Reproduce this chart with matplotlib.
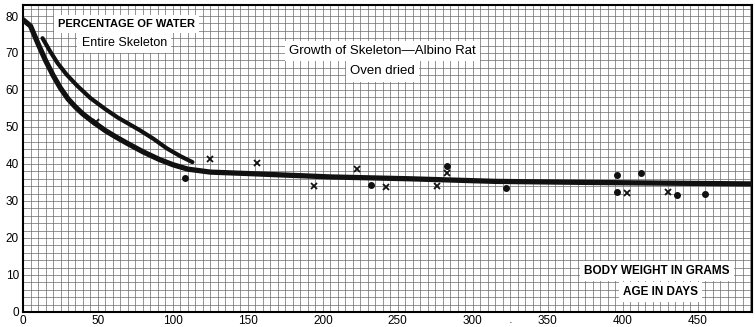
import numpy as np
import matplotlib
matplotlib.use("Agg")
import matplotlib.pyplot as plt
import matplotlib.transforms as mtransforms

plt.rcParams['font.family'] = ['Liberation Sans', 'DejaVu Sans']

# lower curve: body weight in grams
weight_x = [0, 5, 10, 15, 20, 25, 30, 35, 40, 47, 55, 62, 69, 80, 91, 100, 110, 125, 151, 205, 258, 315, 380, 488]
weight_y = [79, 77.3, 72.5, 68, 64, 60.5, 57.6, 55.4, 53.5, 51.3, 49, 47.3, 45.7, 43.3, 41.2, 39.8, 38.6, 37.8, 37.4, 36.5, 36, 35.3, 35, 34.6]

# upper curve: age in days
age_x = [13, 18, 23, 29, 36, 45, 55, 63, 69, 78, 87, 96, 105, 113]
age_y = [74, 70.5, 67.3, 64.2, 61.2, 57.8, 54.8, 52.6, 51.2, 49.1, 46.8, 44.2, 42.1, 40.5]

# single observations
cross_x = [49, 125, 156, 194, 223, 242, 276, 283, 403, 430]
cross_y = [51.4, 41.4, 40.3, 34, 38.6, 33.8, 34, 37.6, 32.2, 32.4]
dot_x = [108, 232, 283, 322, 396, 396, 412, 436, 455]
dot_y = [36.2, 34.3, 39.5, 33.5, 37, 32.4, 37.6, 31.6, 31.9]

x_ticks = [0, 50, 100, 150, 200, 250, 300, 350, 400, 450]
y_ticks = [0, 10, 20, 30, 40, 50, 60, 70, 80]

fig = plt.figure(figsize=(7.55, 3.27), dpi=100)
ax = fig.add_axes([0.0305, 0.046, 0.965, 0.939])
ax.set_xlim(0, 486)
ax.set_ylim(0, 83)

# graph paper
ax.set_xticks(x_ticks)
ax.set_yticks(y_ticks)
ax.set_xticks(np.arange(0, 487, 5), minor=True)
ax.set_yticks(np.arange(0, 84, 2), minor=True)
ax.grid(which='both', color='0.42', linewidth=0.5)
ax.set_axisbelow(True)
ax.tick_params(which='both', length=0)
ax.tick_params(axis='x', pad=2, labelsize=8.5)
ax.tick_params(axis='y', pad=3, labelsize=8.5)
for s in ax.spines.values():
    s.set_linewidth(1.5)
    s.set_color('black')

ax.plot(weight_x, weight_y, color='#111111', lw=3.8, solid_capstyle='round',
        solid_joinstyle='round', zorder=3)
ax.plot(age_x, age_y, color='#111111', lw=3.0, solid_capstyle='round',
        solid_joinstyle='round', zorder=3)
ax.plot(cross_x, cross_y, 'x', color='#111111', ms=5, mew=1.3, zorder=4)
ax.plot(dot_x, dot_y, 'o', color='#111111', ms=4, zorder=4)

box = dict(facecolor='white', edgecolor='none', pad=3)
ax.text(69, 77.8, 'PERCENTAGE OF WATER', fontsize=8, fontweight='bold',
        ha='center', va='center', bbox=box, zorder=5)
ax.text(67.5, 72.7, 'Entire Skeleton', fontsize=9, ha='center', va='center',
        bbox=box, zorder=5)
ax.text(240, 70.5, 'Growth of Skeleton\u2014Albino Rat', fontsize=9.5,
        ha='center', va='center', bbox=box, zorder=5)
ax.text(240, 65, 'Oven dried', fontsize=9.5, ha='center', va='center',
        bbox=box, zorder=5)
ax.text(423, 11.1, 'BODY WEIGHT IN GRAMS', fontsize=8.5, fontweight='bold',
        ha='center', va='center', bbox=box, zorder=5)
ax.text(425, 5.4, 'AGE IN DAYS', fontsize=8.5, fontweight='bold',
        ha='center', va='center', bbox=box, zorder=5)

trans = mtransforms.blended_transform_factory(ax.transData, ax.transAxes)
ax.text(325, -0.02, '\u00b7', fontsize=8, ha='center', va='top', transform=trans)

fig.savefig('out.png', dpi=100)
